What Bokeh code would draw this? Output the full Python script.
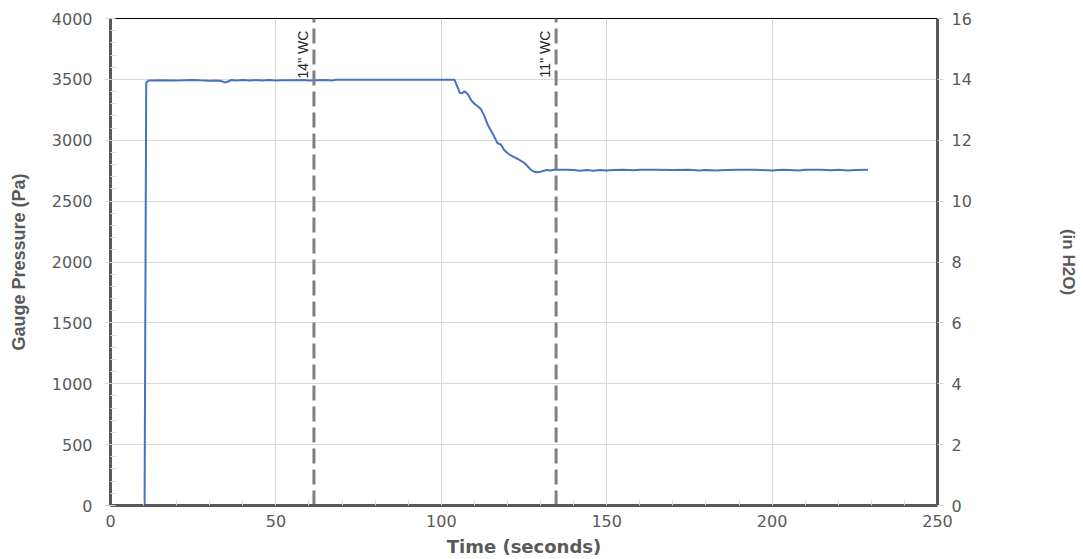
import math
from bokeh.plotting import figure
from bokeh.models import (Range1d, LinearAxis, SingleIntervalTicker, ColumnDataSource)
from bokeh.core.properties import value
from bokeh.embed import file_html
from bokeh.resources import INLINE

# ---- data ----
time_s = [0, 5, 10.3, 10.8, 11.5, 15, 20, 25, 27, 30, 32, 33.5, 34.6, 35.5, 36.5, 38, 40,
          42, 44, 46, 48, 50, 52, 55, 58, 60, 62, 65, 67, 68, 70, 75, 80, 85, 90, 95, 100,
          104, 105, 105.5, 106.2, 107, 108, 109, 110, 111, 112, 113, 114, 115, 116, 117,
          118, 119, 120, 121, 122, 123, 124, 125, 126, 127, 128, 129, 130, 131, 132, 133,
          134, 135, 138, 140, 142, 144, 146, 148, 150, 152, 155, 158, 160, 165, 170, 175,
          178, 180, 183, 186, 190, 195, 200, 203, 205, 208, 210, 215, 218, 220, 223, 225,
          229]
pressure_pa = [0, 0, 0, 3475, 3490, 3492, 3490, 3495, 3492, 3488, 3490, 3486, 3475, 3482,
               3495, 3490, 3494, 3490, 3494, 3491, 3494, 3490, 3493, 3492, 3494, 3491,
               3493, 3495, 3490, 3496, 3496, 3496, 3496, 3496, 3496, 3496, 3496,
               3496, 3430, 3392, 3385, 3403, 3380, 3330, 3300, 3280, 3255, 3200, 3130,
               3080, 3030, 2975, 2965, 2920, 2895, 2875, 2862, 2848, 2832, 2815, 2790,
               2760, 2742, 2738, 2742, 2750, 2756, 2752, 2758, 2757, 2757, 2756, 2750,
               2756, 2750, 2755, 2752, 2756, 2757, 2754, 2757, 2757, 2756, 2757, 2751,
               2755, 2751, 2756, 2757, 2757, 2751, 2757, 2756, 2751, 2757, 2757, 2754,
               2757, 2752, 2756, 2757]
wc_times = [61.5, 134.7]
wc_labels = ['14" WC', '11" WC']
x_ticks = [0, 50, 100, 150, 200, 250]
y_ticks_pa = [0, 500, 1000, 1500, 2000, 2500, 3000, 3500, 4000]
y_ticks_inh2o = [0, 2, 4, 6, 8, 10, 12, 14, 16]

GREY = "#595959"
LIGHT = "#d9d9d9"

p = figure(width=1080, height=559, output_backend="svg", toolbar_location=None,
           x_range=Range1d(0, 250), y_range=Range1d(0, 4000),
           min_border_left=110, min_border_right=140, min_border_top=18,
           min_border_bottom=54)
p.extra_y_ranges = {"inh2o": Range1d(0, 16)}
p.outline_line_color = "black"
p.outline_line_width = 1
p.background_fill_color = "white"
p.border_fill_color = "white"

# grids
p.xgrid.ticker = SingleIntervalTicker(interval=50)
p.ygrid.ticker = SingleIntervalTicker(interval=500)
for g in (p.xgrid, p.ygrid):
    g.grid_line_color = LIGHT
    g.grid_line_width = 1

# x axis
xa = p.xaxis[0]
xa.ticker = SingleIntervalTicker(interval=50, num_minor_ticks=5)
xa.axis_label = "Time (seconds)"
xa.axis_label_text_font = "DejaVu Sans"
xa.axis_label_text_font_style = "bold"
xa.axis_label_text_font_size = "18px"
xa.axis_label_text_color = GREY
xa.axis_label_standoff = 6
xa.major_label_text_font = "DejaVu Sans"
xa.major_label_text_font_size = "16px"
xa.major_label_text_color = GREY
xa.major_label_standoff = 9
xa.axis_line_color = GREY
xa.axis_line_width = 3
xa.major_tick_out = 0
xa.major_tick_in = 0
xa.minor_tick_in = 5
xa.minor_tick_out = 0
xa.minor_tick_line_color = LIGHT

# left axis
ya = p.yaxis[0]
ya.ticker = SingleIntervalTicker(interval=500, num_minor_ticks=5)
ya.axis_label = "Gauge Pressure (Pa)"
ya.axis_label_text_font = "Liberation Sans"
ya.axis_label_text_font_style = "bold"
ya.axis_label_text_font_size = "18px"
ya.axis_label_text_color = GREY
ya.axis_label_standoff = 20
ya.major_label_text_font = "DejaVu Sans"
ya.major_label_text_font_size = "16px"
ya.major_label_text_color = GREY
ya.major_label_standoff = 12
ya.axis_line_color = GREY
ya.axis_line_width = 3
ya.major_tick_out = 6
ya.major_tick_in = 0
ya.major_tick_line_color = LIGHT
ya.minor_tick_in = 5
ya.minor_tick_out = 0
ya.minor_tick_line_color = LIGHT

# right axis
ra = LinearAxis(y_range_name="inh2o")
ra.ticker = SingleIntervalTicker(interval=2, num_minor_ticks=0)
ra.axis_label = "(in H2O)"
ra.axis_label_text_font = "Liberation Sans"
ra.axis_label_text_font_style = "bold"
ra.axis_label_text_font_size = "17px"
ra.axis_label_text_color = GREY
ra.axis_label_standoff = 84
ra.major_label_text_font = "DejaVu Sans"
ra.major_label_text_font_size = "16px"
ra.major_label_text_color = GREY
ra.major_label_standoff = 8
ra.axis_line_color = GREY
ra.axis_line_width = 3
ra.major_tick_out = 6
ra.major_tick_in = 0
ra.major_tick_line_color = LIGHT
ra.minor_tick_line_color = None
p.add_layout(ra, "right")

# data line
src = ColumnDataSource(dict(t=time_s, pa=pressure_pa))
p.line("t", "pa", source=src, line_color="#4472C4", line_width=2)

# reference dashed lines
wc = ColumnDataSource(dict(x=wc_times, y0=[0] * len(wc_times), y1=[4000] * len(wc_times),
                           ty=[3900] * len(wc_times), label=wc_labels))
p.segment("x", "y0", "x", "y1", source=wc, line_color="#808080", line_width=3,
          line_dash="15 6")
p.text("x", "ty", text="label", source=wc, angle=math.pi / 2, text_align="right",
       text_baseline="bottom", x_offset=-3, text_font=value("Liberation Sans"),
       text_font_size="14px", text_color="#262626")

open("out.html", "w").write(file_html(p, INLINE))
